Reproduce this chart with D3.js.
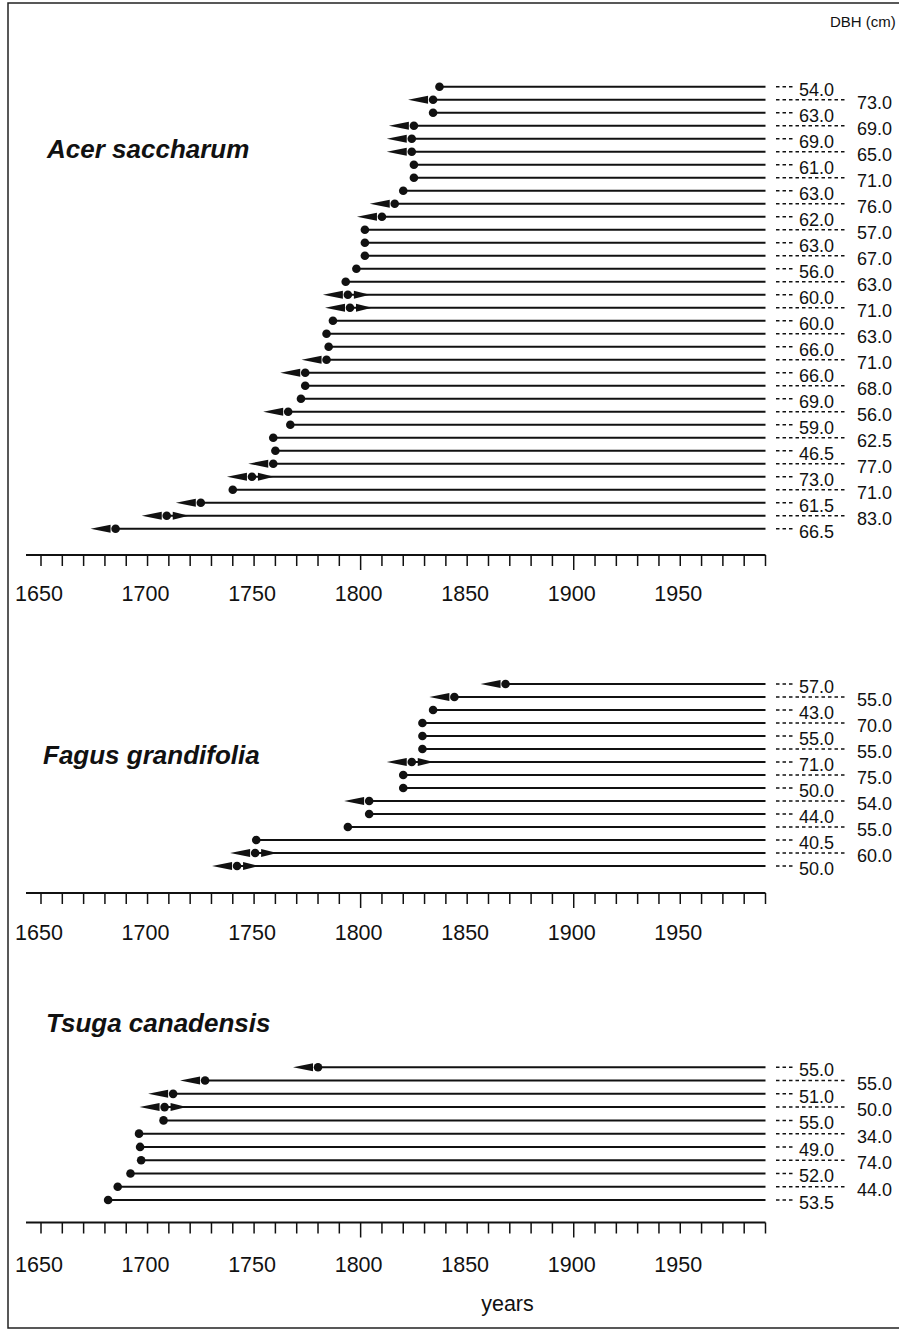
<!DOCTYPE html>
<html>
<head>
<meta charset="utf-8">
<script src="https://cdn.jsdelivr.net/npm/d3@7"></script>
<style>
  html, body { margin: 0; padding: 0; background: #fff; }
  svg { display: block; }
  text { font-family: "Liberation Sans", Arial, Helvetica, sans-serif; fill: #111; }
</style>
</head>
<body>
<svg id="chart" width="900" height="1332"></svg>
<script>
// ---------------- DATA ----------------
const tickYears = d3.range(1650, 1991, 10);
const tickLabels = [1650, 1700, 1750, 1800, 1850, 1900, 1950];
const longTicks = [1800, 1900];
const endYear = 1990;

// Acer saccharum (top to bottom)
const acerStart = [1837,1834,1834,1825,1824,1824,1825,1825,1820,1816,1810,1802,1802,1802,1798,1793,1794,1795,1787,1784,1785,1784,1774,1774,1772,1766,1767,1759,1760,1759,1749,1740,1725,1709,1685];
const acerDBH = ["54.0","73.0","63.0","69.0","69.0","65.0","61.0","71.0","63.0","76.0","62.0","57.0","63.0","67.0","56.0","63.0","60.0","71.0","60.0","63.0","66.0","71.0","66.0","68.0","69.0","56.0","59.0","62.5","46.5","77.0","73.0","71.0","61.5","83.0","66.5"];
// marker: "" = none, "L" = left arrow, "B" = both arrows
const acerMark = ["","L","","L","L","L","","","","L","L","","","","","","B","B","","","","L","L","","","L","","","","L","B","","L","B","L"];

// Fagus grandifolia
const fagusStart = [1868,1844,1834,1829,1829,1829,1824,1820,1820,1804,1804,1794,1751,1750.5,1742];
const fagusDBH = ["57.0","55.0","43.0","70.0","55.0","55.0","71.0","75.0","50.0","54.0","44.0","55.0","40.5","60.0","50.0"];
const fagusMark = ["L","L","","","","","B","","","L","","","","B","B"];

// Tsuga canadensis
const tsugaStart = [1780,1727,1712,1708,1707.5,1696,1696.5,1697,1692,1686,1681.5];
const tsugaDBH = ["55.0","55.0","51.0","50.0","55.0","34.0","49.0","74.0","52.0","44.0","53.5"];
const tsugaMark = ["L","L","L","B","","","","","","",""];

const species = ["Acer saccharum", "Fagus grandifolia", "Tsuga canadensis"];

// ---------------- LAYOUT ----------------
const panels = [
  { name: species[0], start: acerStart, dbh: acerDBH, mark: acerMark,
    rowTop: 86.7, rowBottom: 528.7, axisY: 555, labelDy: 46, titleX: 47, titleY: 158 },
  { name: species[1], start: fagusStart, dbh: fagusDBH, mark: fagusMark,
    rowTop: 684, rowBottom: 866, axisY: 893, labelDy: 47, titleX: 43, titleY: 764 },
  { name: species[2], start: tsugaStart, dbh: tsugaDBH, mark: tsugaMark,
    rowTop: 1067.3, rowBottom: 1200, axisY: 1222.5, labelDy: 49, titleX: 46, titleY: 1032 }
];

const svg = d3.select("#chart");
const x = d3.scaleLinear().domain([1650, 1990]).range([41, 765.5]);

// frame
svg.append("path")
  .attr("d", "M899,3 H8 V1328 H899")
  .attr("fill", "none").attr("stroke", "#222").attr("stroke-width", 1.5);

svg.append("text").attr("x", 830).attr("y", 27)
  .attr("font-size", 15).text("DBH (cm)");

panels.forEach(p => {
  const g = svg.append("g");
  const n = p.start.length;
  const y = d3.scalePoint().domain(d3.range(n)).range([p.rowTop, p.rowBottom]);
  const rows = d3.range(n).map(i => ({ i, start: p.start[i], dbh: p.dbh[i], mark: p.mark[i] }));

  // title
  g.append("text").attr("x", p.titleX).attr("y", p.titleY)
    .attr("font-size", 26).attr("font-weight", "bold").attr("font-style", "italic")
    .text(p.name);

  // bars
  g.selectAll("line.bar").data(rows).join("line")
    .attr("class", "bar")
    .attr("x1", d => x(d.start)).attr("x2", x(endYear))
    .attr("y1", d => y(d.i)).attr("y2", d => y(d.i))
    .attr("stroke", "#111").attr("stroke-width", 2);

  // left arrows
  g.selectAll("path.la").data(rows.filter(d => d.mark === "L" || d.mark === "B")).join("path")
    .attr("class", "la")
    .attr("d", d => { const cx = x(d.start), cy = y(d.i);
      return `M${cx - 25},${cy} L${cx - 5},${cy - 4} L${cx - 5},${cy + 4} Z`; })
    .attr("fill", "#111");

  // right arrows
  g.selectAll("path.ra").data(rows.filter(d => d.mark === "B")).join("path")
    .attr("class", "ra")
    .attr("d", d => { const cx = x(d.start), cy = y(d.i);
      return `M${cx + 22},${cy} L${cx + 6},${cy - 4} L${cx + 6},${cy + 4} Z`; })
    .attr("fill", "#111");

  // dots
  g.selectAll("circle.dot").data(rows).join("circle")
    .attr("class", "dot")
    .attr("cx", d => x(d.start)).attr("cy", d => y(d.i)).attr("r", 4.3)
    .attr("fill", "#111");

  // DBH dashes and labels
  g.selectAll("line.dash").data(rows).join("line")
    .attr("class", "dash")
    .attr("x1", 776).attr("x2", d => d.i % 2 === 0 ? 793 : 847)
    .attr("y1", d => y(d.i)).attr("y2", d => y(d.i))
    .attr("stroke", "#111").attr("stroke-width", 1.5)
    .attr("stroke-dasharray", "3.5,3");

  g.selectAll("text.dbh").data(rows).join("text")
    .attr("class", "dbh")
    .attr("x", d => d.i % 2 === 0 ? 799 : 857)
    .attr("y", d => y(d.i) + 9)
    .attr("font-size", 18)
    .text(d => d.dbh);

  // axis
  const ag = g.append("g").attr("transform", `translate(0,${p.axisY})`);
  ag.append("line").attr("x1", 26).attr("x2", x(1990)).attr("y1", 0).attr("y2", 0)
    .attr("stroke", "#111").attr("stroke-width", 2);
  ag.selectAll("line.tick").data(tickYears).join("line")
    .attr("class", "tick")
    .attr("x1", d => x(d)).attr("x2", d => x(d))
    .attr("y1", 0).attr("y2", d => longTicks.includes(d) ? 15 : 11)
    .attr("stroke", "#111").attr("stroke-width", 1.5);
  ag.selectAll("text.tl").data(tickLabels).join("text")
    .attr("class", "tl")
    .attr("x", d => x(d) - 2).attr("y", p.labelDy)
    .attr("text-anchor", "middle").attr("font-size", 21.5)
    .text(d => d);
});

svg.append("text").attr("x", 507.5).attr("y", 1311).attr("text-anchor", "middle")
  .attr("font-size", 21.5).text("years");
</script>
</body>
</html>
